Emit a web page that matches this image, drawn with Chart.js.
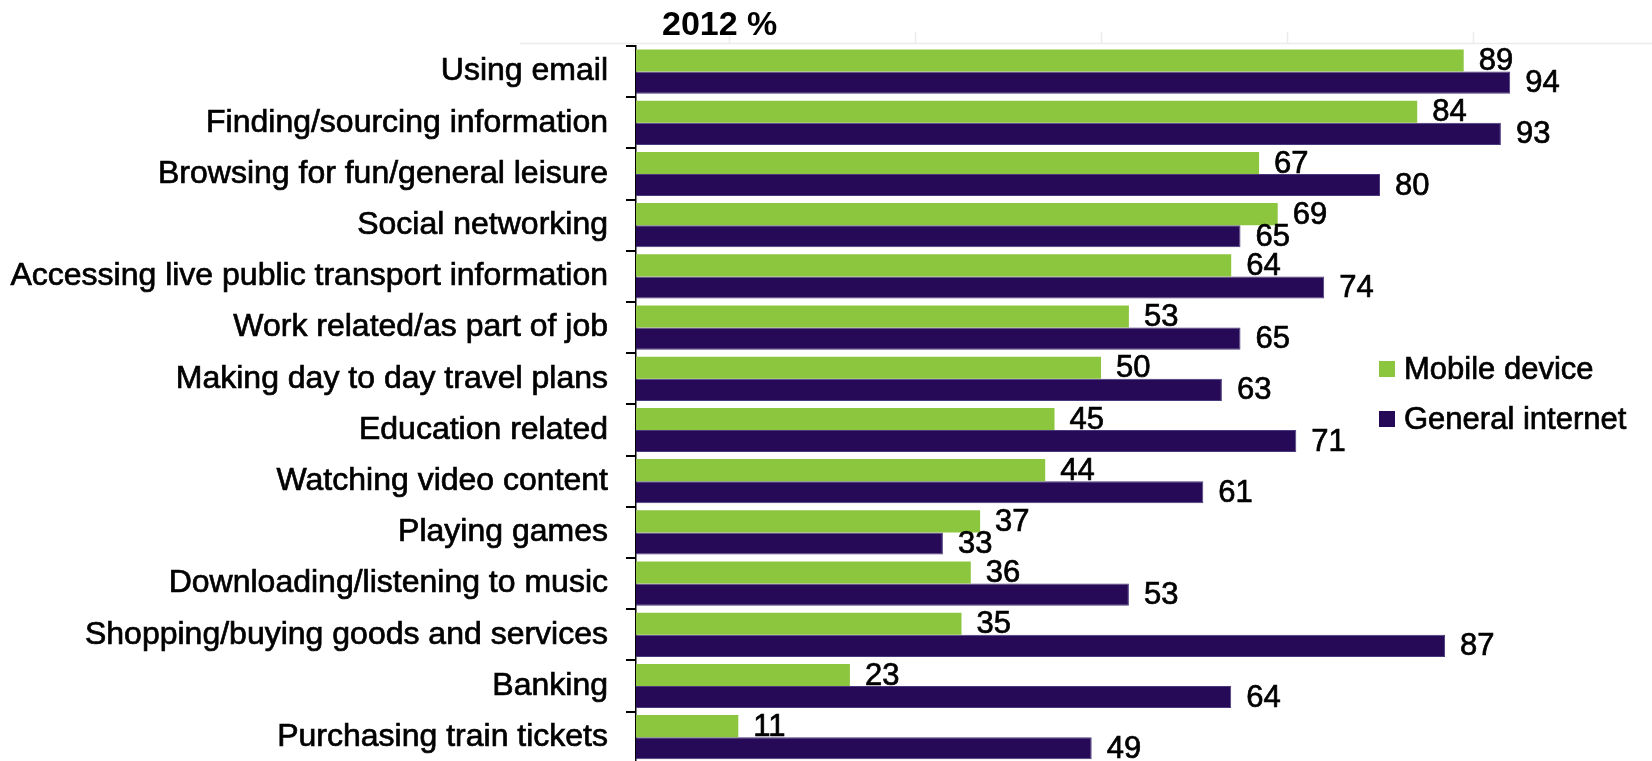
<!DOCTYPE html>
<html>
<head>
<meta charset="utf-8">
<title>Online activities 2012</title>
<script src="https://cdn.jsdelivr.net/npm/chart.js@4.4.1/dist/chart.umd.min.js"></script>
<style>
  html, body { margin: 0; padding: 0; background: #fff; overflow: hidden; }
  #wrap { width: 1652px; height: 761px; overflow: hidden; }
  canvas { display: block; }
</style>
</head>
<body>
<div id="wrap"><canvas id="chart" width="1652" height="800"></canvas></div>
<script>
// Activities, top to bottom
const activities = [
  'Using email',
  'Finding/sourcing information',
  'Browsing for fun/general leisure',
  'Social networking',
  'Accessing live public transport information',
  'Work related/as part of job',
  'Making day to day travel plans',
  'Education related',
  'Watching video content',
  'Playing games',
  'Downloading/listening to music',
  'Shopping/buying goods and services',
  'Banking',
  'Purchasing train tickets'
];
const mobileDevice    = [89, 84, 67, 69, 64, 53, 50, 45, 44, 37, 36, 35, 23, 11];
const generalInternet = [94, 93, 80, 65, 74, 65, 63, 71, 61, 33, 53, 87, 64, 49];
const seriesNames = ['Mobile device', 'General internet'];
const yearLabel = '2012 %';
const guideTicks = [10, 30, 50, 70, 90];

const FONT = "'Liberation Sans', Arial, sans-serif";
const GREEN = '#8cc63f';
const PURPLE = '#260a57';
const TEXT_STROKE = 0.7;

// writes text with a hairline outline so it reads a little heavier
function heavyText(ctx, str, x, y) {
  ctx.strokeStyle = ctx.fillStyle;
  ctx.lineWidth = TEXT_STROKE;
  ctx.strokeText(str, x, y);
  ctx.fillText(str, x, y);
}

// faint guide line with short stubs above the plot
const guides = {
  id: 'guides',
  beforeDraw(chart) {
    const ctx = chart.ctx;
    const x = chart.scales.x;
    ctx.save();
    ctx.strokeStyle = '#ececec';
    ctx.lineWidth = 1.5;
    ctx.beginPath();
    ctx.moveTo(520, 43.5);
    ctx.lineTo(chart.width, 43.5);
    guideTicks.forEach(v => {
      const px = Math.round(x.getPixelForValue(v)) + 0.5;
      ctx.moveTo(px, 32);
      ctx.lineTo(px, 44);
    });
    ctx.stroke();
    ctx.restore();
  }
};

// value printed just past the end of every bar
const valueLabels = {
  id: 'valueLabels',
  afterDatasetsDraw(chart) {
    const ctx = chart.ctx;
    ctx.save();
    ctx.font = '31px ' + FONT;
    ctx.fillStyle = '#000';
    ctx.textAlign = 'left';
    ctx.textBaseline = 'middle';
    chart.data.datasets.forEach((ds, i) => {
      chart.getDatasetMeta(i).data.forEach((bar, j) => {
        heavyText(ctx, String(ds.data[j]), bar.x + 15, bar.y + 1);
      });
    });
    ctx.restore();
  }
};

// year heading and the key on the right
const headingAndKey = {
  id: 'headingAndKey',
  afterDraw(chart) {
    const ctx = chart.ctx;
    ctx.save();
    ctx.fillStyle = '#000';
    ctx.font = 'bold 34px ' + FONT;
    ctx.textAlign = 'left';
    ctx.textBaseline = 'alphabetic';
    ctx.fillText(yearLabel, 662, 35);

    ctx.font = '31px ' + FONT;
    ctx.textBaseline = 'middle';
    chart.data.datasets.forEach((ds, i) => {
      const cy = 369 + i * 50;
      ctx.fillStyle = ds.backgroundColor;
      ctx.fillRect(1379, cy - 8, 16, 16);
      ctx.fillStyle = '#000';
      heavyText(ctx, ds.label, 1404, cy + 1);
    });
    ctx.restore();
  }
};

new Chart(document.getElementById('chart'), {
  type: 'bar',
  data: {
    labels: activities,
    datasets: [
      {
        label: seriesNames[0],
        data: mobileDevice,
        backgroundColor: GREEN,
        borderWidth: 0
      },
      {
        label: seriesNames[1],
        data: generalInternet,
        backgroundColor: PURPLE,
        borderColor: '#4a3a7c',
        borderWidth: 1
      }
    ]
  },
  options: {
    indexAxis: 'y',
    responsive: false,
    animation: false,
    devicePixelRatio: 1,
    categoryPercentage: 0.863,
    barPercentage: 1,
    layout: { padding: { top: 46, right: 86, bottom: 36, left: 0 } },
    plugins: {
      legend: { display: false },
      tooltip: { enabled: false }
    },
    scales: {
      x: {
        min: 0,
        max: 100,
        display: false
      },
      y: {
        grid: {
          drawOnChartArea: false,
          drawTicks: true,
          tickLength: 10,
          color: '#000',
          lineWidth: 2
        },
        border: { display: true, color: '#000', width: 1.5 },
        ticks: {
          color: '#000',
          font: { family: FONT, size: 32 },
          padding: 18,
          autoSkip: false,
          textStrokeColor: '#000',
          textStrokeWidth: TEXT_STROKE
        },
        afterFit(scale) { scale.width = 636; }
      }
    }
  },
  plugins: [guides, valueLabels, headingAndKey]
});
</script>
</body>
</html>
